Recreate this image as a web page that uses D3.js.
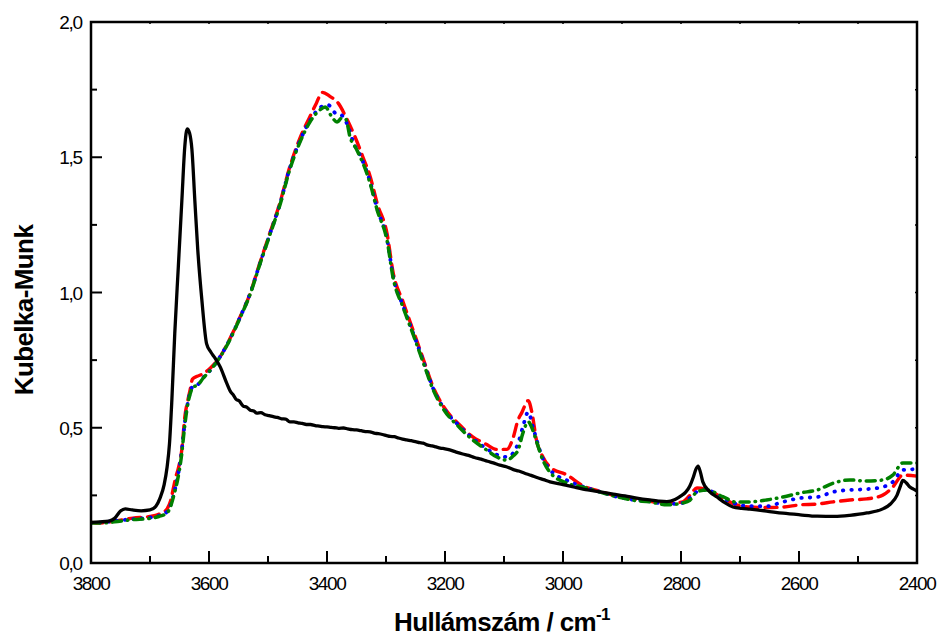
<!DOCTYPE html>
<html>
<head>
<meta charset="utf-8">
<script src="https://cdn.jsdelivr.net/npm/d3@7"></script>
<style>
html,body{margin:0;padding:0;background:#fff;}
svg{display:block;}
text{font-family:"Liberation Sans",Arial,sans-serif;fill:#000;}
</style>
</head>
<body>
<svg id="chart" width="939" height="639"></svg>
<script>
// ---- data (wavenumber cm-1, Kubelka-Munk) ----
const xTicks = [3800, 3600, 3400, 3200, 3000, 2800, 2600, 2400];
const yTicks = [0, 0.5, 1.0, 1.5, 2.0];
const yTickLabels = ["0,0", "0,5", "1,0", "1,5", "2,0"];

const blackSeries = [
[3800,0.150],[3785,0.152],[3770,0.155],[3760,0.165],[3750,0.192],[3742,0.200],[3730,0.196],[3715,0.193],[3700,0.196],
[3690,0.210],[3683,0.240],[3676,0.290],[3671,0.355],[3667,0.440],[3663,0.600],[3658,0.850],[3652,1.095],[3646,1.340],
[3641,1.540],[3637,1.605],[3633,1.590],[3629,1.530],[3624,1.340],[3619,1.157],[3612,0.970],[3604,0.810],[3597,0.780],
[3590,0.758],[3581,0.725],[3570,0.665],[3563,0.632],[3559,0.622],[3554,0.605],[3549,0.600],[3542,0.580],[3536,0.576],
[3530,0.565],[3524,0.562],[3519,0.554],[3512,0.556],[3505,0.548],[3498,0.545],[3491,0.541],[3484,0.538],[3477,0.533],
[3470,0.532],[3463,0.522],[3456,0.522],[3449,0.518],[3442,0.516],[3435,0.512],[3428,0.512],[3420,0.508],[3413,0.506],
[3407,0.504],[3400,0.503],[3393,0.501],[3387,0.500],[3380,0.498],[3372,0.499],[3365,0.496],[3357,0.493],[3350,0.492],
[3342,0.489],[3335,0.486],[3327,0.485],[3320,0.480],[3313,0.478],[3306,0.475],[3299,0.471],[3293,0.468],[3286,0.467],
[3279,0.462],[3272,0.458],[3265,0.455],[3257,0.452],[3250,0.449],[3243,0.445],[3237,0.443],[3229,0.436],[3222,0.433],
[3215,0.429],[3208,0.425],[3200,0.422],[3192,0.418],[3181,0.410],[3170,0.403],[3160,0.398],[3150,0.390],[3139,0.384],
[3128,0.376],[3118,0.370],[3107,0.362],[3096,0.356],[3085,0.346],[3075,0.340],[3065,0.332],[3054,0.324],[3043,0.315],
[3033,0.308],[3022,0.300],[3000,0.290],[2980,0.280],[2958,0.270],[2937,0.263],[2915,0.255],[2895,0.248],
[2875,0.240],[2853,0.233],[2838,0.229],[2824,0.227],[2810,0.235],[2800,0.248],[2792,0.262],[2785,0.285],[2779,0.318],
[2775,0.345],[2771,0.358],[2767,0.335],[2763,0.300],[2752,0.265],[2739,0.244],[2725,0.222],[2712,0.207],[2697,0.202],
[2683,0.199],[2655,0.192],[2627,0.184],[2598,0.178],[2569,0.173],[2540,0.172],[2514,0.176],[2485,0.185],[2458,0.200],
[2445,0.218],[2434,0.250],[2428,0.285],[2424,0.305],[2418,0.296],[2412,0.281],[2405,0.272],[2400,0.266]
];

const redSeries = [
[3800,0.150],[3785,0.148],[3760,0.155],[3729,0.166],[3700,0.172],[3689,0.177],[3678,0.188],[3671,0.200],[3665,0.230],
[3661,0.270],[3656,0.320],[3652,0.350],[3646,0.420],[3641,0.540],[3636,0.600],[3632,0.640],[3628,0.680],[3620,0.690],
[3610,0.700],[3598,0.720],[3581,0.763],[3564,0.832],[3547,0.911],[3530,0.998],[3514,1.108],[3497,1.219],[3480,1.330],
[3463,1.465],[3446,1.570],[3429,1.650],[3418,1.700],[3408,1.740],[3395,1.725],[3381,1.700],[3366,1.640],[3353,1.578],
[3339,1.500],[3327,1.430],[3315,1.330],[3298,1.215],[3288,1.075],[3271,0.965],[3254,0.860],[3237,0.755],[3220,0.650],
[3203,0.580],[3175,0.510],[3153,0.466],[3131,0.440],[3112,0.420],[3095,0.420],[3085,0.460],[3076,0.530],[3070,0.555],
[3059,0.600],[3053,0.560],[3045,0.455],[3034,0.392],[3022,0.355],[2993,0.325],[2966,0.285],[2937,0.265],[2909,0.247],
[2881,0.236],[2853,0.228],[2824,0.220],[2797,0.226],[2785,0.250],[2773,0.277],[2757,0.272],[2729,0.240],[2706,0.215],
[2683,0.207],[2655,0.205],[2627,0.207],[2598,0.215],[2569,0.218],[2542,0.226],[2514,0.233],[2485,0.237],[2458,0.251],
[2441,0.281],[2424,0.325],[2400,0.321]
];

const blueSeries = [
[3800,0.148],[3780,0.150],[3760,0.156],[3730,0.162],[3700,0.168],[3685,0.175],[3671,0.190],[3665,0.215],[3659,0.260],
[3653,0.320],[3647,0.400],[3642,0.500],[3637,0.580],[3632,0.630],[3627,0.655],[3619,0.660],[3610,0.685],[3598,0.712],
[3581,0.763],[3564,0.830],[3547,0.910],[3530,0.998],[3514,1.105],[3497,1.215],[3480,1.325],[3463,1.460],[3446,1.560],
[3429,1.635],[3410,1.686],[3398,1.693],[3386,1.663],[3373,1.652],[3364,1.612],[3355,1.553],[3344,1.508],[3327,1.410],
[3315,1.310],[3298,1.195],[3288,1.060],[3271,0.950],[3254,0.850],[3237,0.748],[3220,0.645],[3203,0.575],[3175,0.505],
[3153,0.460],[3131,0.425],[3112,0.400],[3095,0.392],[3085,0.405],[3076,0.443],[3068,0.503],[3059,0.558],[3051,0.503],
[3044,0.450],[3034,0.385],[3022,0.345],[2993,0.305],[2966,0.282],[2937,0.263],[2909,0.245],[2881,0.234],[2853,0.228],
[2824,0.218],[2797,0.222],[2785,0.240],[2773,0.263],[2757,0.270],[2729,0.240],[2706,0.218],[2683,0.210],[2655,0.210],
[2627,0.226],[2598,0.240],[2569,0.244],[2542,0.263],[2514,0.270],[2485,0.273],[2458,0.281],[2441,0.300],[2424,0.344],
[2400,0.347]
];

const greenSeries = [
[3800,0.148],[3780,0.148],[3760,0.152],[3730,0.160],[3700,0.165],[3685,0.172],[3671,0.185],[3665,0.210],[3659,0.255],
[3653,0.310],[3647,0.390],[3642,0.490],[3637,0.575],[3632,0.625],[3627,0.650],[3619,0.658],[3610,0.683],[3598,0.712],
[3581,0.762],[3564,0.828],[3547,0.908],[3530,0.995],[3514,1.103],[3497,1.212],[3480,1.322],[3463,1.455],[3446,1.555],
[3429,1.630],[3412,1.675],[3403,1.686],[3392,1.650],[3383,1.630],[3375,1.645],[3368,1.640],[3361,1.575],[3350,1.530],
[3327,1.404],[3315,1.305],[3298,1.190],[3288,1.055],[3271,0.945],[3254,0.845],[3237,0.742],[3220,0.640],[3203,0.570],
[3175,0.500],[3153,0.455],[3131,0.420],[3112,0.392],[3095,0.380],[3085,0.395],[3076,0.418],[3068,0.480],[3059,0.522],
[3051,0.490],[3044,0.443],[3034,0.380],[3022,0.335],[2993,0.295],[2966,0.280],[2937,0.262],[2909,0.245],[2881,0.232],
[2853,0.226],[2824,0.215],[2797,0.222],[2785,0.232],[2773,0.263],[2757,0.270],[2729,0.245],[2706,0.225],[2683,0.226],
[2655,0.233],[2627,0.244],[2598,0.259],[2569,0.270],[2542,0.295],[2514,0.307],[2485,0.303],[2458,0.307],[2441,0.325],
[2424,0.370],[2400,0.370]
];

// ---- layout ----
const svg = d3.select("#chart");
const L = 91, R = 917, T = 22, B = 563;
const x = d3.scaleLinear().domain([3800, 2400]).range([L, R]);
const y = d3.scaleLinear().domain([0, 2.0]).range([B, T]);

svg.append("defs").append("clipPath").attr("id","clip")
  .append("rect").attr("x",L).attr("y",T).attr("width",R-L).attr("height",B-T);

const line = d3.line().x(d => x(d[0])).y(d => y(d[1])).curve(d3.curveMonotoneX);
const blackLine = d3.line().x(d => x(d[0])).y(d => y(d[1])).curve(d3.curveLinear);
const plot = svg.append("g").attr("clip-path","url(#clip)");

plot.append("path").datum(redSeries).attr("d", line)
  .attr("fill","none").attr("stroke","#ff0000").attr("stroke-width",3.4)
  .attr("stroke-dasharray","12,7").attr("stroke-linecap","round");
plot.append("path").datum(blueSeries).attr("d", line)
  .attr("fill","none").attr("stroke","#0000ff").attr("stroke-width",3.8)
  .attr("stroke-dasharray","0.5,8").attr("stroke-linecap","round");
plot.append("path").datum(greenSeries).attr("d", line)
  .attr("fill","none").attr("stroke","#008000").attr("stroke-width",3.5)
  .attr("stroke-dasharray","9,6,0.5,6").attr("stroke-linecap","round");
plot.append("path").datum(blackSeries).attr("d", line)
  .attr("fill","none").attr("stroke","#000").attr("stroke-width",3.3)
  .attr("stroke-linejoin","round");

// ---- axes ----
const minorX = d3.range(3800, 2399, -100);
const minorY = d3.range(0, 2.001, 0.25);

const gx = svg.append("g").attr("transform",`translate(0,${B})`);
gx.selectAll("line").data(minorX).join("line")
  .attr("x1", d => x(d)).attr("x2", d => x(d)).attr("y1", 0)
  .attr("y2", d => (d % 200 === 0) ? -12 : -7)
  .attr("stroke","#000").attr("stroke-width",2);
gx.selectAll("text").data(xTicks).join("text")
  .attr("x", d => x(d)).attr("y", 27)
  .attr("text-anchor","middle").attr("font-size",19).attr("letter-spacing","-1.4px")
  .text(d => d);

const gy = svg.append("g").attr("transform",`translate(${L},0)`);
gy.selectAll("line").data(minorY).join("line")
  .attr("y1", d => y(d)).attr("y2", d => y(d)).attr("x1", 0)
  .attr("x2", (d,i) => (i % 2 === 0) ? 11 : 6)
  .attr("stroke","#000").attr("stroke-width",2);
gy.selectAll("text").data(yTicks).join("text")
  .attr("x", -9).attr("y", d => y(d) + 7)
  .attr("text-anchor","end").attr("font-size",19).attr("letter-spacing","-1.2px")
  .text((d,i) => yTickLabels[i]);

svg.append("g").selectAll("line").data(minorY).join("line")
  .attr("x1", R).attr("x2", R-2).attr("y1", d => y(d)).attr("y2", d => y(d))
  .attr("stroke","#000").attr("stroke-width",1.5);
svg.append("g").selectAll("line").data(minorX).join("line")
  .attr("x1", d => x(d)).attr("x2", d => x(d)).attr("y1", T).attr("y2", T+2)
  .attr("stroke","#000").attr("stroke-width",1.5);

svg.append("rect").attr("x",L).attr("y",T).attr("width",R-L).attr("height",B-T)
  .attr("fill","none").attr("stroke","#000").attr("stroke-width",2.5);

const xt = svg.append("text").attr("x", 502).attr("y", 631)
  .attr("text-anchor","middle").attr("font-size",26).attr("font-weight","bold")
  .attr("letter-spacing","-0.6px");
xt.append("tspan").text("Hullámszám / cm");
xt.append("tspan").attr("dy",-11).attr("font-size",17).text("-1");

svg.append("text").attr("transform","translate(33,310) rotate(-90)")
  .attr("text-anchor","middle").attr("font-size",26).attr("font-weight","bold")
  .attr("letter-spacing","-0.6px")
  .text("Kubelka-Munk");
</script>
</body>
</html>
